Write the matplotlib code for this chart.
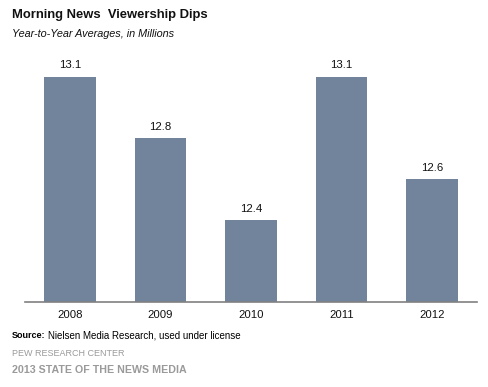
import matplotlib.pyplot as plt

years = ['2008', '2009', '2010', '2011', '2012']
viewers = [13.1, 12.8, 12.4, 13.1, 12.6]

plt.rcParams['font.family'] = ['Liberation Sans', 'DejaVu Sans']

fig = plt.figure(figsize=(4.88, 3.87), dpi=100)
ax = fig.add_axes([25 / 488, 85 / 387, 452 / 488, 268 / 387])

px_per_unit = 205
x = list(range(len(years)))
ax.bar(x, viewers, width=0.57, color='#71849b')

for xi, v in zip(x, viewers):
    ax.text(xi, v + 11 / px_per_unit, f'{v:.1f}', ha='center', va='center',
            fontsize=8.2, color='#111111')

ax.set_xlim(-0.5, 4.5)
ax.set_ylim(12, 12 + 268 / px_per_unit)
ax.set_xticks(x)
ax.set_xticklabels(years, fontsize=8.2, color='#111111')
ax.tick_params(axis='x', length=0, pad=6)
ax.set_yticks([])
for s in ['top', 'right', 'left']:
    ax.spines[s].set_visible(False)
ax.spines['bottom'].set_color('#808080')
ax.spines['bottom'].set_linewidth(1.2)

fig.text(12 / 488, 1 - 15 / 387, 'Morning News  Viewership Dips', fontsize=9.4,
         fontweight='bold', va='center', ha='left', color='#111111')
fig.text(12 / 488, 1 - 34 / 387, 'Year-to-Year Averages, in Millions', fontsize=7.8,
         style='italic', va='center', ha='left', color='#111111')

src = fig.text(12 / 488, 1 - 335 / 387, 'Source:', fontsize=6.5, fontweight='bold',
               va='center', ha='left', color='#000000')
fig.canvas.draw()
bb = src.get_window_extent()
fig.text((bb.x1 + 3) / 488, 1 - 335 / 387, 'Nielsen Media Research, used under license',
         fontsize=7, va='center', ha='left', color='#000000')
fig.text(12 / 488, 1 - 353 / 387, 'PEW RESEARCH CENTER', fontsize=6.5,
         va='center', ha='left', color='#9a9a9a')
fig.text(12 / 488, 1 - 370 / 387, '2013 STATE OF THE NEWS MEDIA', fontsize=7.7,
         fontweight='bold', va='center', ha='left', color='#9a9a9a')

fig.savefig('out.png', dpi=100)
